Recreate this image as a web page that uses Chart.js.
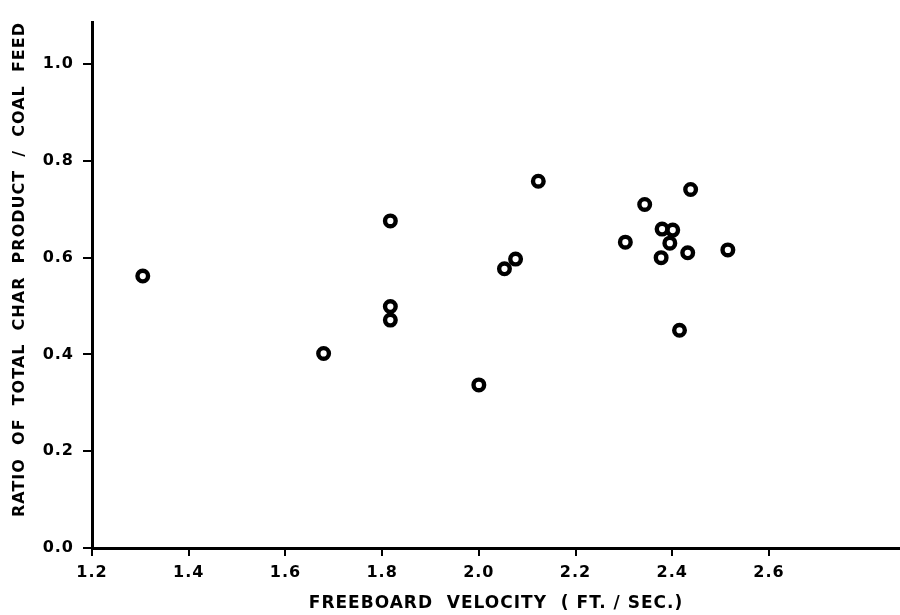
<!DOCTYPE html>
<html>
<head>
<meta charset="utf-8">
<script src="https://cdn.jsdelivr.net/npm/chart.js@4"></script>
<style>
  html, body { margin: 0; padding: 0; background: #fff; }
  #wrap { width: 900px; height: 615px; }
</style>
</head>
<body>
<div id="wrap"><canvas id="chart"></canvas></div>
<script>
// freeboard velocity (ft/sec) vs ratio char product / coal feed
const velocity = [1.305, 1.679, 1.817, 1.817, 1.817, 2.0, 2.053, 2.076, 2.123,
                  2.303, 2.343, 2.377, 2.379, 2.395, 2.401, 2.415, 2.432, 2.438, 2.515]
const ratio = [0.562, 0.402, 0.676, 0.499, 0.471, 0.337, 0.577, 0.597, 0.758,
               0.632, 0.710, 0.600, 0.659, 0.630, 0.657, 0.450, 0.610, 0.741, 0.616]
const xTicks = [1.2, 1.4, 1.6, 1.8, 2.0, 2.2, 2.4, 2.6]
const yTicks = [0.0, 0.2, 0.4, 0.6, 0.8, 1.0]

const points = velocity.map((v, i) => ({ x: v, y: ratio[i] }))
const fontFam = '"DejaVu Sans", sans-serif'

// wider lettering like the stencil text of the original
const spacing = {
  id: 'spacing',
  beforeDraw: chart => { chart.ctx.letterSpacing = '1px' }
}

const ctx = document.getElementById('chart')

new Chart(ctx, {
  type: 'scatter',
  data: {
    datasets: [{
      data: points,
      pointStyle: 'circle',
      pointRadius: 5.3,
      pointBorderWidth: 4.4,
      pointBorderColor: '#000',
      pointBackgroundColor: 'rgba(0,0,0,0)'
    }]
  },
  plugins: [spacing],
  options: {
    responsive: true,
    maintainAspectRatio: false,
    animation: false,
    layout: { autoPadding: false, padding: { top: 22, right: 0, bottom: 0, left: 0 } },
    plugins: {
      legend: { display: false },
      tooltip: { enabled: false }
    },
    scales: {
      x: {
        type: 'linear',
        min: 1.2,
        max: 2.871,
        afterBuildTicks: s => { s.ticks = xTicks.map(v => ({ value: v })) },
        afterFit: s => { s.height = 67 },
        border: { display: true, color: '#000', width: 3 },
        grid: { drawOnChartArea: false, drawTicks: true, tickLength: 8, lineWidth: 2, color: '#000' },
        ticks: {
          color: '#000',
          padding: 7,
          maxRotation: 0,
          font: { family: fontFam, size: 16, weight: 'bold' },
          callback: v => v.toFixed(1)
        },
        title: {
          display: true,
          text: 'FREEBOARD  VELOCITY  ( FT. / SEC.)',
          color: '#000',
          padding: { top: 0, bottom: 1 },
          font: { family: fontFam, size: 17, weight: 'bold' }
        }
      },
      y: {
        type: 'linear',
        min: 0,
        max: 1.087,
        afterBuildTicks: s => { s.ticks = yTicks.map(v => ({ value: v })) },
        afterFit: s => { s.width = 92 },
        border: { display: true, color: '#000', width: 3 },
        grid: { drawOnChartArea: false, drawTicks: true, tickLength: 9, lineWidth: 2, color: '#000' },
        ticks: {
          color: '#000',
          padding: 9,
          font: { family: fontFam, size: 16, weight: 'bold' },
          callback: v => v.toFixed(1)
        },
        title: {
          display: true,
          text: 'RATIO  OF  TOTAL  CHAR  PRODUCT  /  COAL  FEED',
          color: '#000',
          align: 'end',
          padding: { top: 10, bottom: 0 },
          font: { family: fontFam, size: 16, weight: 'bold' }
        }
      }
    }
  }
})
</script>
</body>
</html>
